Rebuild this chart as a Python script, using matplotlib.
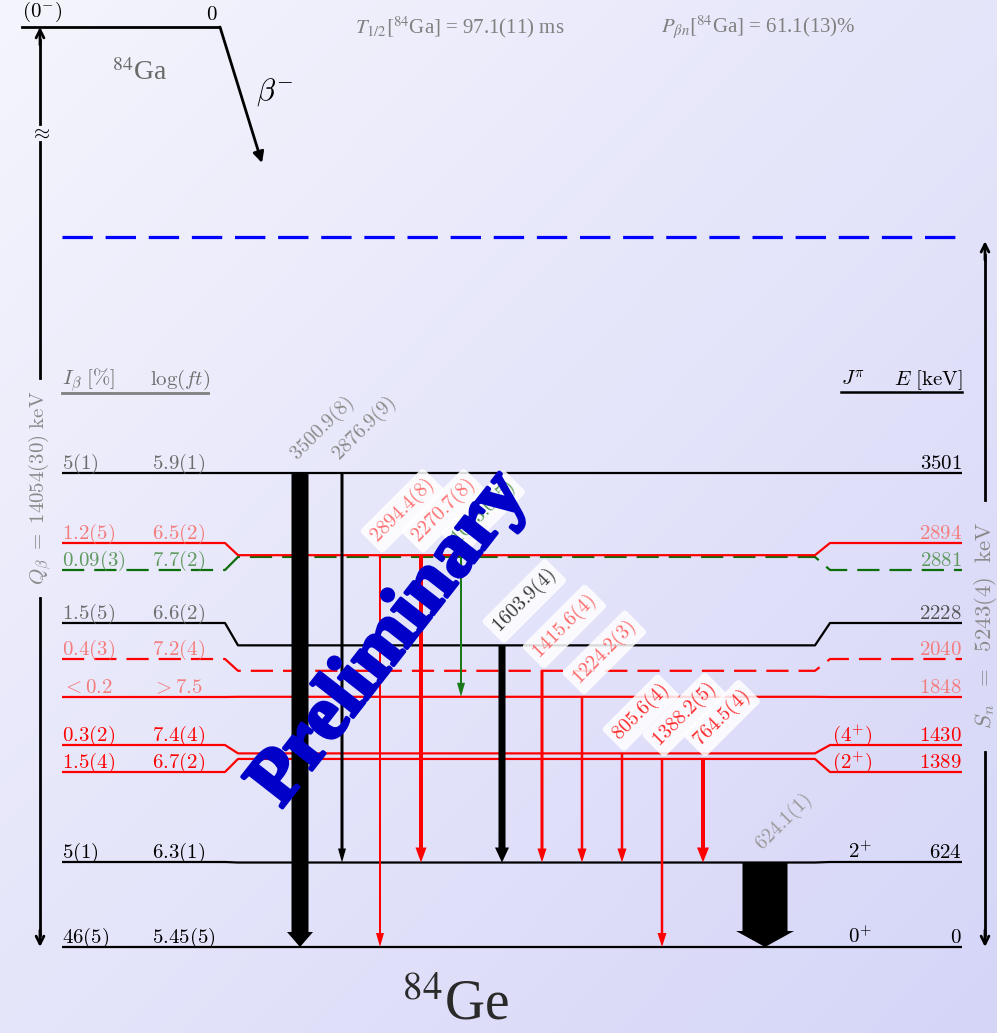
import numpy as np
import matplotlib
matplotlib.use("Agg")
import matplotlib.pyplot as plt
import matplotlib.patheffects as pe
from matplotlib.patches import FancyArrow
from matplotlib.lines import Line2D

plt.rcParams["mathtext.fontset"] = "cm"

# ---------------- data ----------------
# 84Ge levels (keV)
level_E = [0, 624, 1389, 1430, 1848, 2040, 2228, 2881, 2894, 3501]
level_Ib = ["46(5)", "5(1)", "1.5(4)", "0.3(2)", "{<}0.2", "0.4(3)",
            "1.5(5)", "0.09(3)", "1.2(5)", "5(1)"]
level_logft = ["5.45(5)", "6.3(1)", "6.7(2)", "7.4(4)", "{>}7.5", "7.2(4)",
               "6.6(2)", "7.7(2)", "6.5(2)", "5.9(1)"]
level_Jpi = ["0^{+}", "2^{+}", "(2^{+})", "(4^{+})", "", "", "", "", "", ""]
level_dashed = [False, False, False, False, False, True, False, True, False, False]

# gamma transitions: label, initial level, final level
gamma_label = ["3500.9(8)", "2876.9(9)", "2894.4(8)", "2270.7(8)", "1033.0(5)",
               "1603.9(4)", "1415.6(4)", "1224.2(3)", "805.6(4)", "1388.2(5)",
               "764.5(4)", "624.1(1)"]
gamma_from = [3501, 3501, 2894, 2894, 2881, 2228, 2040, 1848, 1430, 1389, 1389, 624]
gamma_to = [0, 624, 0, 624, 1848, 624, 624, 624, 624, 0, 624, 0]

Q_beta = "14054(30)"
S_n = 5243
S_n_text = "5243(4)"
T_half = "97.1(11)"
P_bn = "61.1(13)"

# ---------------- layout / style ----------------
W, H = 997, 1033
Y0 = 947                   # pixel row of the ground state
K = 474 / 3501             # pixels per keV


def px2E(p):
    return (Y0 - p) / K


# label slots on the two sides (spread apart where levels crowd)
slot_px = [947, 862, 772, 745, 697, 659, 623, 570, 543, 473]
slot_E = [px2E(p) for p in slot_px]

RED, GREEN, BLACK = "#ff0000", "#0b6e0b", "#000000"
PINK, GRAY, LGREEN = "#f47c7c", "#6e6e6e", "#5f9a5f"
level_color = [BLACK, BLACK, RED, RED, RED, RED, BLACK, GREEN, RED, BLACK]
left_tcol = [BLACK, BLACK, RED, RED, PINK, PINK, GRAY, LGREEN, PINK, GRAY]
right_tcol = [BLACK, BLACK, RED, RED, PINK, PINK, "#555555", LGREEN, PINK, BLACK]

gamma_x = [300, 342, 380, 421, 461, 502, 542, 582, 622, 662, 703, 765]
gamma_w = [17, 3, 2, 4, 2, 7, 3, 2.5, 2.5, 2.5, 4, 45]
gamma_hw = [26, 8, 8, 11, 8, 14, 9, 9, 9, 9, 12, 58]
gamma_hl = [15, 14, 14, 15, 14, 15, 14, 14, 14, 14, 15, 16]
gamma_col = [BLACK, BLACK, RED, RED, "#1a7a1a", BLACK, RED, RED, RED, RED, RED, BLACK]
gamma_tcol = ["#8a8a8a", "#8a8a8a", "#ff7070", "#ff7070", "#5a9a5a", "#3a3a3a",
              "#ff6a6a", "#ff6a6a", "#ff2a2a", "#ff2a2a", "#ff2a2a", "#9a9a9a"]
gamma_box = [False, False, True, True, True, True, True, True, True, True, True, False]

XL0, XL1, XM0, XM1, XR0, XR1 = 62, 225, 238, 815, 830, 962

# ---------------- figure ----------------
fig = plt.figure(figsize=(W / 100, H / 100), dpi=100)
ax = fig.add_axes([0, 0, 1, 1])
E_top, E_bot = px2E(0), px2E(H)
ax.set_xlim(0, W)
ax.set_ylim(E_bot, E_top)
ax.axis("off")

# soft lavender background gradient
gx, gy = np.meshgrid(np.linspace(0, 1, 200), np.linspace(0, 1, 200))
t = (gx + gy) / 2
c0 = np.array([0.960, 0.960, 0.992])
c1 = np.array([0.835, 0.835, 0.972])
img = c0[None, None, :] * (1 - t[..., None]) + c1[None, None, :] * t[..., None]
ax.imshow(img, extent=[0, W, E_bot, E_top], origin="upper", aspect="auto", zorder=0)

# ---------------- levels ----------------
lw_level = 1.6
for i, E in enumerate(level_E):
    s = slot_E[i]
    xs = [XL0, XL1, XM0, XM1, XR0, XR1]
    ys = [s, s, E, E, s, s]
    ln = Line2D(xs, ys, color=level_color[i], lw=lw_level, zorder=2,
                solid_capstyle="butt", dash_capstyle="butt")
    if level_dashed[i]:
        ln.set_dashes((10, 4.5))
    ax.add_line(ln)
    dy = 28
    ax.text(XL0, s + dy, "$%s$" % level_Ib[i], color=left_tcol[i], fontsize=15,
            ha="left", va="baseline", zorder=3)
    ax.text(152, s + dy, "$%s$" % level_logft[i], color=left_tcol[i], fontsize=15,
            ha="left", va="baseline", zorder=3)
    ax.text(XR1, s + dy, "$%d$" % E, color=right_tcol[i], fontsize=15,
            ha="right", va="baseline", zorder=3)
    if level_Jpi[i]:
        ax.text(872, s + dy, "$%s$" % level_Jpi[i], color=right_tcol[i], fontsize=15,
                ha="right", va="baseline", zorder=3)

# neutron separation energy
sn = Line2D([XL0, XR1], [S_n, S_n], color="#0000ff", lw=2.3, zorder=2)
sn.set_dashes((9.5, 4))
ax.add_line(sn)

# column headers
hdr_E = px2E(385)
ax.text(XL0, hdr_E, r"$I_\beta\ [\%]$", color=GRAY, fontsize=15, ha="left", va="baseline")
ax.text(150, hdr_E, r"$\log(ft)$", color=GRAY, fontsize=15, ha="left", va="baseline")
ax.plot([XL0, 208], [px2E(393)] * 2, color="#808080", lw=2, zorder=2)
ax.text(841, hdr_E, r"$J^{\pi}$", color=BLACK, fontsize=15, ha="left", va="baseline")
ax.text(XR1, hdr_E, r"$E\ [\mathrm{keV}]$", color=BLACK, fontsize=15, ha="right", va="baseline")
ax.plot([841, XR1], [px2E(392)] * 2, color=BLACK, lw=1.8, zorder=2)

# ---------------- gamma transitions ----------------
for i in range(len(gamma_label)):
    x = gamma_x[i]
    Ei, Ef = gamma_from[i], gamma_to[i]
    arr = FancyArrow(x, Ei, 0, Ef - Ei, width=gamma_w[i], head_width=gamma_hw[i],
                     head_length=gamma_hl[i] / K, length_includes_head=True,
                     color=gamma_col[i], lw=0, zorder=4)
    ax.add_patch(arr)
    kw = dict(rotation=45, rotation_mode="anchor", ha="left", va="bottom",
              color=gamma_tcol[i], fontsize=14.5, zorder=6)
    if gamma_box[i]:
        kw["bbox"] = dict(boxstyle="round,pad=0.2", fc="white", ec="none", alpha=0.85)
    ax.text(x + 2, Ei + 7 / K, "$%s$" % gamma_label[i], **kw)

# ---------------- parent 84Ga ----------------
E_ga = px2E(27)
ax.plot([22, 218], [E_ga, E_ga], color=BLACK, lw=2, zorder=3)
ax.text(22, E_ga + 3 / K, r"$(0^{-})$", fontsize=15, ha="left", va="bottom", zorder=3)
ax.text(218, E_ga + 3 / K, r"$0$", fontsize=15, ha="right", va="bottom", zorder=3)
ax.text(140, px2E(73), r"$^{84}$Ga", fontsize=20, color="#6a6a6a", family="Liberation Serif",
        math_fontfamily="stix", ha="center", va="center")
ax.annotate("", xy=(262, px2E(163)), xytext=(220, E_ga),
            arrowprops=dict(arrowstyle="-|>", color=BLACK, lw=2, mutation_scale=16,
                            shrinkA=0, shrinkB=0), zorder=3)
ax.text(256, px2E(92), r"$\beta^{-}$", fontsize=22, ha="left", va="center")

ax.text(460, E_ga, r"$T_{1/2}[^{84}$Ga] = %s ms" % T_half, fontsize=15, color="#808080",
        family="Liberation Serif", math_fontfamily="stix", ha="center", va="center")
ax.text(758, E_ga, r"$P_{\beta n}[^{84}$Ga] = %s%%" % P_bn, fontsize=15, color="#808080",
        family="Liberation Serif", math_fontfamily="stix", ha="center", va="center")

# Q_beta arrow (broken axis)
xq = 40
ax.plot([xq, xq], [px2E(40), px2E(124)], color=BLACK, lw=2, zorder=3)
ax.plot([xq, xq], [px2E(142), px2E(378)], color=BLACK, lw=2, zorder=3)
ax.plot([xq, xq], [px2E(598), px2E(935)], color=BLACK, lw=2, zorder=3)
ax.annotate("", xy=(xq, E_ga), xytext=(xq, px2E(45)),
            arrowprops=dict(arrowstyle="->", color=BLACK, lw=2, mutation_scale=14,
                            shrinkA=0, shrinkB=0))
ax.annotate("", xy=(xq, 0), xytext=(xq, px2E(930)),
            arrowprops=dict(arrowstyle="->", color=BLACK, lw=2, mutation_scale=14,
                            shrinkA=0, shrinkB=0))
ax.text(xq, px2E(133), r"$\approx$", fontsize=15, ha="center", va="center", zorder=4)
ax.text(xq, px2E(488), r"$Q_\beta\ =\ %s\ \mathrm{keV}$" % Q_beta, fontsize=15,
        color="#8a8a8a", rotation=90, ha="center", va="center")

# S_n arrow
xs_ = 985
ax.plot([xs_, xs_], [px2E(255), px2E(500)], color=BLACK, lw=2, zorder=3)
ax.plot([xs_, xs_], [px2E(752), px2E(935)], color=BLACK, lw=2, zorder=3)
ax.annotate("", xy=(xs_, S_n - 4 / K), xytext=(xs_, px2E(260)),
            arrowprops=dict(arrowstyle="->", color=BLACK, lw=2, mutation_scale=14,
                            shrinkA=0, shrinkB=0))
ax.annotate("", xy=(xs_, 0), xytext=(xs_, px2E(930)),
            arrowprops=dict(arrowstyle="->", color=BLACK, lw=2, mutation_scale=14,
                            shrinkA=0, shrinkB=0))
ax.text(xs_, px2E(625), r"$S_n\ \ =\ \ %s\ \ \mathrm{keV}$" % S_n_text, fontsize=16.5,
        color="#8a8a8a", rotation=90, ha="center", va="center")

# daughter label
ax.text(455, px2E(1005), r"$^{84}$Ge", fontsize=40, color="#2a2a2a",
        family="Liberation Serif", math_fontfamily="stix", ha="center", va="center")

# watermark
ax.text(390, px2E(640), "Preliminary", rotation=52, rotation_mode="anchor",
        fontsize=56, fontweight="bold", family="Liberation Serif", color="#0000c8",
        ha="center", va="center", zorder=10,
        path_effects=[pe.withStroke(linewidth=2.5, foreground="#0000c8")])

fig.savefig("out.png", dpi=100)
